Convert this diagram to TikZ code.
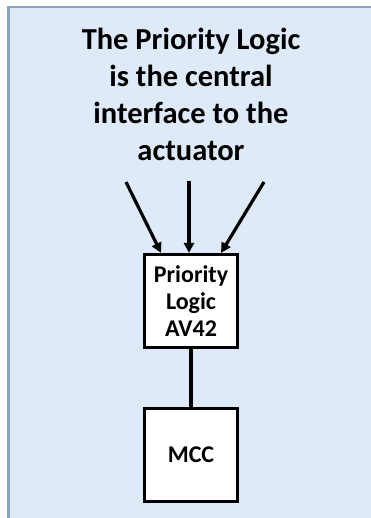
\documentclass[tikz,border=0pt]{standalone}
\usepackage{fontspec}
\setmainfont{Carlito}
\usepackage{tikz}
\usetikzlibrary{positioning,calc}
\usetikzlibrary{arrows.meta}
\definecolor{PanelBlue}{RGB}{222,234,247}
\definecolor{PanelEdge}{RGB}{140,162,198}
\tikzset{
	block/.style={draw=black,fill=white,line width=3.2pt,minimum width=93pt,minimum height=93pt,
		inner sep=0pt,align=center,font=\fontsize{24}{27}\selectfont\bfseries},
	feed/.style={draw=black,line width=3.2pt,-{Triangle[length=10pt,width=10pt]}},
	wire/.style={draw=black,line width=3.2pt},
}
\begin{document}
\begin{tikzpicture}[x=1pt,y=-1pt]
					\useasboundingbox (0,0) rectangle (370,518);
					\draw[PanelEdge,fill=PanelBlue,line width=2.5pt] (8.5,7) rectangle (380,530);
					\node[align=center,font=\fontsize{30.5}{37}\selectfont\bfseries] (title) at (191,94)
						{The Priority Logic\\is the central\\interface to the\\actuator};
					\node[block] (prio) at (191,301) {Priority\\Logic\\AV42};
					\node[block,below=58pt of prio] (mcc) {MCC};
					\coordinate (s1) at (126,182);
					\coordinate (s2) at (189,181);
					\coordinate (s3) at (264,182);
					\draw[feed] (s1) -- ([xshift=-30pt]prio.north);
					\draw[feed] (s2) -- ([xshift=-2pt]prio.north);
					\draw[feed] (s3) -- ([xshift=30pt]prio.north);
					\draw[wire] (prio) -- (mcc);
				\end{tikzpicture}
\end{document}
